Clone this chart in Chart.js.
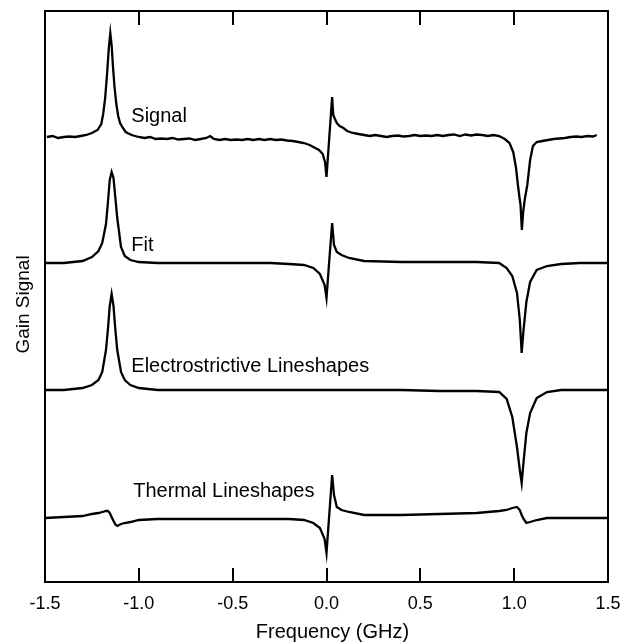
<!DOCTYPE html>
<html>
<head>
<meta charset="utf-8">
<script src="https://cdn.jsdelivr.net/npm/chart.js@4.4.1/dist/chart.umd.min.js"></script>
<style>
  html, body { margin: 0; padding: 0; background: #fff; }
  #wrap { width: 624px; height: 644px; position: relative; }
</style>
</head>
<body>
<div id="wrap"><canvas id="chart"></canvas></div>
<script>
// frequency axis ticks (GHz)
const tickValues = [-1.5, -1.0, -0.5, 0.0, 0.5, 1.0, 1.5];

// measured trace (offset, arbitrary units)
const freqSignal = [
  -1.49, -1.46, -1.43, -1.40, -1.37, -1.34, -1.31, -1.28, -1.25, -1.22,
  -1.20, -1.19, -1.18, -1.17, -1.16, -1.152, -1.145, -1.138, -1.13, -1.12,
  -1.11, -1.10, -1.085, -1.07, -1.05, -1.03, -1.00, -0.97, -0.94, -0.91,
  -0.88, -0.85, -0.82, -0.79, -0.76, -0.73, -0.70, -0.67, -0.64, -0.62,
  -0.60, -0.57, -0.54, -0.51, -0.48, -0.45, -0.42, -0.39, -0.36, -0.33,
  -0.30, -0.27, -0.24, -0.21, -0.18, -0.15, -0.12, -0.09, -0.06, -0.04,
  -0.02, -0.008, 0.00, 0.015, 0.03, 0.036, 0.045, 0.055, 0.07, 0.09,
  0.11, 0.14, 0.17, 0.20, 0.23, 0.26, 0.29, 0.32, 0.35, 0.38,
  0.41, 0.44, 0.47, 0.50, 0.53, 0.56, 0.59, 0.62, 0.65, 0.68,
  0.71, 0.74, 0.77, 0.80, 0.83, 0.86, 0.89, 0.92, 0.95, 0.975,
  0.995, 1.01, 1.02, 1.028, 1.034, 1.041, 1.048, 1.056, 1.07, 1.085,
  1.10, 1.12, 1.15, 1.18, 1.21, 1.24, 1.27, 1.30, 1.33, 1.36,
  1.39, 1.42, 1.44
];
const signal = [
  44.5, 44.6, 44.4, 44.5, 44.55, 44.5, 44.6, 44.7, 44.9, 45.2,
  45.8, 46.8, 48.3, 50.6, 53.4, 54.9, 53.7, 51.6, 49.6, 47.8,
  46.6, 45.9, 45.4, 45.0, 44.8, 44.65, 44.5, 44.4, 44.5, 44.3,
  44.35, 44.3, 44.4, 44.25, 44.3, 44.35, 44.2, 44.3, 44.4, 44.6,
  44.3, 44.2, 44.3, 44.2, 44.25, 44.2, 44.3, 44.2, 44.3, 44.2,
  44.3, 44.2, 44.25, 44.15, 44.1, 44.0, 43.9, 43.7, 43.4, 43.2,
  42.8, 42.0, 40.5, 44.5, 48.5, 46.7, 46.3, 45.9, 45.6, 45.4,
  45.1, 44.9, 44.8, 44.7, 44.6, 44.7, 44.6, 44.5, 44.6, 44.65,
  44.55, 44.6, 44.7, 44.6, 44.65, 44.6, 44.7, 44.6, 44.7, 44.75,
  44.6, 44.75, 44.65, 44.75, 44.7, 44.6, 44.7, 44.6, 44.3, 43.9,
  43.0, 41.4, 39.7, 38.5, 37.7, 35.2, 37.0, 38.2, 39.7, 42.2,
  43.6, 44.0, 44.1, 44.2, 44.3, 44.35, 44.4, 44.5, 44.55, 44.5,
  44.6, 44.55, 44.7
];

// model traces share one frequency grid
const freqModel = [
  -1.50, -1.40, -1.30, -1.25, -1.215, -1.195, -1.175, -1.165, -1.155, -1.145,
  -1.135, -1.125, -1.115, -1.095, -1.075, -1.045, -1.00, -0.90, -0.70, -0.50,
  -0.30, -0.20, -0.12, -0.07, -0.035, -0.01, 0.00, 0.015, 0.03, 0.04,
  0.055, 0.08, 0.12, 0.20, 0.40, 0.60, 0.80, 0.92, 0.96, 0.99,
  1.015, 1.03, 1.04, 1.05, 1.065, 1.085, 1.12, 1.175, 1.25, 1.35,
  1.50
];
const fit = [
  31.9, 31.9, 32.1, 32.5, 33.1, 33.9, 35.8, 37.9, 40.2, 41.0,
  40.4, 38.4, 36.4, 33.5, 32.6, 32.2, 32.0, 31.9, 31.9, 31.9,
  31.9, 31.8, 31.7, 31.4, 30.8, 29.7, 28.4, 32.2, 35.9, 33.7,
  33.0, 32.7, 32.4, 32.1, 32.0, 32.0, 32.0, 31.9, 31.4, 30.6,
  28.9, 26.2, 22.9, 25.2, 28.0, 30.0, 31.2, 31.6, 31.8, 31.9,
  31.9
];
const electrostrictive = [
  19.2, 19.2, 19.4, 19.7, 20.2, 21.0, 23.2, 25.2, 27.6, 28.8,
  27.6, 25.2, 23.2, 21.0, 20.2, 19.7, 19.4, 19.2, 19.2, 19.2,
  19.2, 19.2, 19.2, 19.2, 19.2, 19.2, 19.2, 19.2, 19.2, 19.2,
  19.2, 19.2, 19.2, 19.2, 19.2, 19.1, 19.1, 19.0, 18.3, 16.5,
  13.5, 11.2, 9.9, 12.0, 14.9, 16.9, 18.4, 19.0, 19.2, 19.2,
  19.2
];
const thermal = [
  6.4, 6.5, 6.6, 6.8, 6.9, 7.0, 7.1, 7.1, 6.9, 6.5,
  6.1, 5.75, 5.6, 5.8, 5.9, 6.0, 6.2, 6.3, 6.3, 6.3,
  6.3, 6.3, 6.2, 5.9, 5.4, 4.3, 2.9, 6.8, 10.7, 8.7,
  7.5, 7.2, 7.0, 6.7, 6.7, 6.8, 6.9, 7.1, 7.2, 7.4,
  7.5, 7.2, 6.7, 6.3, 5.9, 6.0, 6.2, 6.4, 6.4, 6.4,
  6.4
];

const traceNames = ['Signal', 'Fit', 'Electrostrictive Lineshapes', 'Thermal Lineshapes'];

const FONT = 'Arial, "Liberation Sans", sans-serif';

function pts(xs, ys) {
  return xs.map((x, i) => ({ x: x, y: ys[i] }));
}

function lineSet(label, data) {
  return {
    label: label,
    data: data,
    borderColor: '#000',
    borderWidth: 2.3,
    pointRadius: 0,
    tension: 0,
    fill: false
  };
}

// text labels beside each trace, placed in data coordinates
const traceLabelPos = [
  { x: -1.04, y: 46.0 },
  { x: -1.04, y: 33.1 },
  { x: -1.04, y: 21.0 },
  { x: -1.03, y: 8.5 }
];

const framePlugin = {
  id: 'frame',
  afterDraw(chart) {
    const ctx = chart.ctx;
    const a = chart.chartArea;
    const xs = chart.scales.x;
    const ys = chart.scales.y;
    ctx.save();
    ctx.strokeStyle = '#000';
    ctx.lineWidth = 2;
    ctx.strokeRect(a.left, a.top, a.right - a.left, a.bottom - a.top);

    // inward ticks, top and bottom
    tickValues.forEach(v => {
      if (v === xs.min || v === xs.max) return;
      const px = Math.round(xs.getPixelForValue(v));
      ctx.beginPath();
      ctx.moveTo(px, a.bottom);
      ctx.lineTo(px, a.bottom - 14);
      ctx.moveTo(px, a.top);
      ctx.lineTo(px, a.top + 14);
      ctx.stroke();
    });

    ctx.fillStyle = '#000';
    ctx.font = '20px ' + FONT;
    ctx.textAlign = 'left';
    ctx.textBaseline = 'alphabetic';
    traceNames.forEach((t, i) => {
      const p = traceLabelPos[i];
      ctx.fillText(t, xs.getPixelForValue(p.x), ys.getPixelForValue(p.y));
    });

    // axis titles
    ctx.textAlign = 'center';
    ctx.fillText('Frequency (GHz)', (a.left + a.right) / 2 + 6, 638);
    ctx.font = '19px ' + FONT;
    ctx.translate(29, (a.top + a.bottom) / 2 + 8);
    ctx.rotate(-Math.PI / 2);
    ctx.fillText('Gain Signal', 0, 0);
    ctx.restore();
  }
};

new Chart(document.getElementById('chart'), {
  type: 'line',
  data: {
    datasets: [
      lineSet(traceNames[0], pts(freqSignal, signal)),
      lineSet(traceNames[1], pts(freqModel, fit)),
      lineSet(traceNames[2], pts(freqModel, electrostrictive)),
      lineSet(traceNames[3], pts(freqModel, thermal))
    ]
  },
  options: {
    responsive: true,
    maintainAspectRatio: false,
    animation: false,
    layout: { autoPadding: false, padding: { top: 11, right: 16, left: 45, bottom: 0 } },
    plugins: { legend: { display: false }, tooltip: { enabled: false } },
    scales: {
      x: {
        type: 'linear',
        min: -1.5,
        max: 1.5,
        afterBuildTicks: s => { s.ticks = tickValues.map(v => ({ value: v })); },
        afterFit: s => { s.height = 62; },
        // hidden tick marks only push the labels down
        grid: { display: false, drawTicks: true, tickLength: 11 },
        border: { display: false },
        ticks: {
          color: '#000',
          padding: 0,
          maxRotation: 0,
          autoSkip: false,
          font: { family: FONT, size: 18 },
          callback: v => v.toFixed(1)
        }
      },
      y: {
        display: false,
        min: 0,
        max: 57.1
      }
    }
  },
  plugins: [framePlugin]
});
</script>
</body>
</html>
